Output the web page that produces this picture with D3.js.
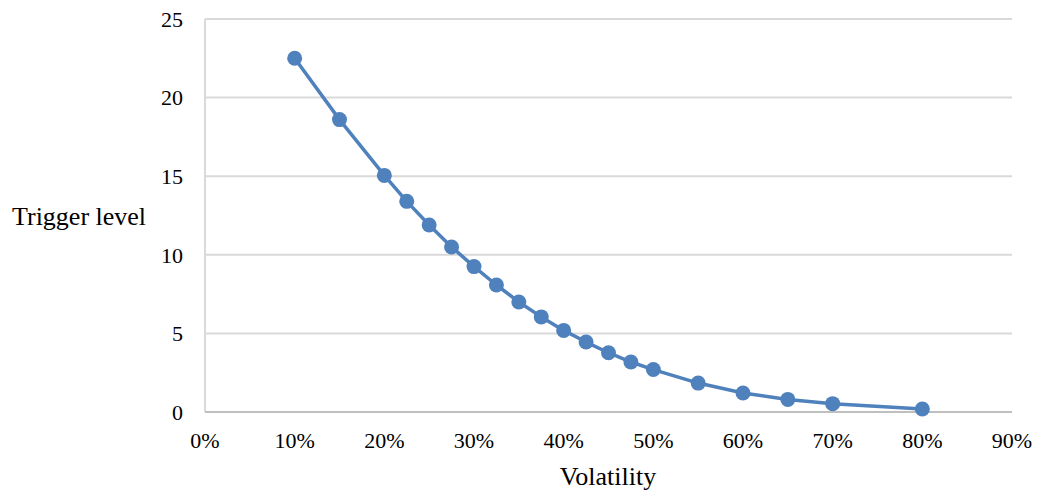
<!DOCTYPE html>
<meta charset="utf-8">
<style>
  body { margin: 0; padding: 0; background: white; }
  svg { background: white; }
  text { font-family: "Liberation Serif", "Times New Roman", serif; fill: #000; }
</style>
<script src="https://d3js.org/d3.v7.min.js"></script>
<svg id="vis"></svg>
<script>

var width = 1037, height = 493;

// volatility (fraction) and trigger level
const volatility = [0.10, 0.15, 0.20, 0.225, 0.25, 0.275, 0.30, 0.325, 0.35, 0.375, 0.40, 0.425, 0.45, 0.475, 0.50, 0.55, 0.60, 0.65, 0.70, 0.80];
const trigger = [22.5, 18.6, 15.05, 13.4, 11.9, 10.5, 9.25, 8.08, 7.0, 6.05, 5.19, 4.45, 3.77, 3.18, 2.7, 1.84, 1.21, 0.8, 0.53, 0.19];
const xTicks = [0, 0.1, 0.2, 0.3, 0.4, 0.5, 0.6, 0.7, 0.8, 0.9];
const yTicks = [0, 5, 10, 15, 20, 25];

var margin = {left: 205, right: 25, top: 19, bottom: 81};

var svg = d3.select("svg")
  .attr("width", width)
  .attr("height", height);

var x = d3.scaleLinear().domain([0, 0.9]).range([margin.left, width - margin.right]);
var y = d3.scaleLinear().domain([0, 25]).range([height - margin.bottom, margin.top]);

// horizontal gridlines
svg.append("g")
  .selectAll("line")
  .data(yTicks.filter(d => d > 0))
  .enter()
  .append("line")
    .attr("x1", x(0)).attr("x2", x(0.9))
    .attr("y1", d => y(d)).attr("y2", d => y(d))
    .attr("stroke", "#d9d9d9")
    .attr("stroke-width", 2);

// left vertical line
svg.append("line")
  .attr("x1", x(0)).attr("x2", x(0))
  .attr("y1", y(25)).attr("y2", y(0))
  .attr("stroke", "#d9d9d9")
  .attr("stroke-width", 2);

// x axis line
svg.append("line")
  .attr("x1", x(0)).attr("x2", x(0.9))
  .attr("y1", y(0)).attr("y2", y(0))
  .attr("stroke", "#bfbfbf")
  .attr("stroke-width", 2);

// y tick labels
svg.append("g")
  .selectAll("text")
  .data(yTicks)
  .enter()
  .append("text")
    .attr("x", 183)
    .attr("y", d => y(d))
    .attr("dy", "0.35em")
    .attr("text-anchor", "end")
    .style("font-size", "22px")
    .text(d => d);

// x tick labels
svg.append("g")
  .selectAll("text")
  .data(xTicks)
  .enter()
  .append("text")
    .attr("x", d => x(d))
    .attr("y", 448)
    .attr("text-anchor", "middle")
    .style("font-size", "22px")
    .text(d3.format(".0%"));

// axis titles
svg.append("text")
  .attr("x", 12)
  .attr("y", 225)
  .style("font-size", "26px")
  .text("Trigger level");

svg.append("text")
  .attr("x", 608)
  .attr("y", 485)
  .attr("text-anchor", "middle")
  .style("font-size", "26px")
  .text("Volatility");

var pts = volatility.map((v, i) => [v, trigger[i]]);

svg.append("path")
  .datum(pts)
  .attr("fill", "none")
  .attr("stroke", "#4f81bd")
  .attr("stroke-width", 3.5)
  .attr("stroke-linejoin", "round")
  .attr("d", d3.line().x(d => x(d[0])).y(d => y(d[1])));

svg.append("g")
  .selectAll("circle")
  .data(pts)
  .enter()
  .append("circle")
    .attr("cx", d => x(d[0]))
    .attr("cy", d => y(d[1]))
    .attr("r", 7.5)
    .attr("fill", "#4f81bd");

</script>
